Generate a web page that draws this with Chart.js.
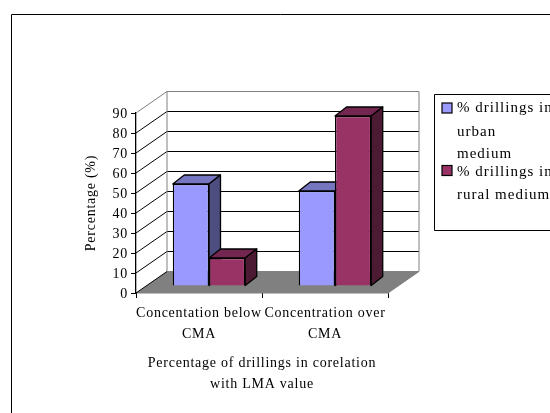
<!DOCTYPE html>
<html><head><meta charset="utf-8">
<style>html,body{margin:0;padding:0;background:#fff;overflow:hidden}canvas{display:block}</style>
<script src="https://cdn.jsdelivr.net/npm/chart.js@4"></script>
</head><body><canvas id="c" width="550" height="413"></canvas>
<script>
const categories = [["Concentation below","CMA"],["Concentration over","CMA"]];
const urbanValues = [51, 47.5];
const ruralValues = [14, 85];
const seriesNames = ["% drillings in urban medium","% drillings in rural medium"];
const legendLines = [["% drillings in","urban","medium"],["% drillings in","rural medium"]];
const yTitle = "Percentage (%)";
const xTitle = ["Percentage of drillings in corelation","with LMA value"];

const FONT = '"Liberation Serif", serif';
const wall = {dx:31, dy:-21.5};
const barShift = {dx:10, dy:-7};
const depth = {dx:11.5, dy:-9};
const faces = [{top:'#7575c0',side:'#4d4d80'},{top:'#732650',side:'#4d1a33'}];

function drawFaces(c,meta,f){
  meta.data.forEach(b=>{
    const p=b.getProps(['x','y','base','width'],true);
    const l=p.x-p.width/2, r=p.x+p.width/2, t=p.y, bt=p.base, dx=depth.dx, dy=depth.dy;
    c.strokeStyle='#000'; c.lineWidth=1.3; c.lineJoin='round';
    c.fillStyle=f.top;
    c.beginPath(); c.moveTo(l,t); c.lineTo(l+dx,t+dy); c.lineTo(r+dx,t+dy); c.lineTo(r,t); c.closePath(); c.fill(); c.stroke();
    c.fillStyle=f.side;
    c.beginPath(); c.moveTo(r,t); c.lineTo(r+dx,t+dy); c.lineTo(r+dx,bt+dy); c.lineTo(r,bt); c.closePath(); c.fill(); c.stroke();
  });
}

const scene = {
  id:'scene',
  beforeDraw(chart){
    const c = chart.ctx;
    c.letterSpacing = '0.75px';
    c.save();
    c.fillStyle='#fff'; c.fillRect(0,0,550,413);
    c.strokeStyle='#000'; c.lineWidth=1;
    c.beginPath(); c.moveTo(11.5,413); c.lineTo(11.5,14.5); c.lineTo(550,14.5); c.stroke();
    c.restore();
  },
  beforeDatasetsDraw(chart){
    const c = chart.ctx, y = chart.scales.y, a = chart.chartArea;
    const y0 = y.getPixelForValue(0), yMax = y.getPixelForValue(90);
    const L=a.left, R=a.right, dx=wall.dx, dy=wall.dy;
    c.save();
    c.fillStyle='#808080';
    c.beginPath(); c.moveTo(L,y0); c.lineTo(R,y0); c.lineTo(R+dx,y0+dy); c.lineTo(L+dx,y0+dy); c.closePath(); c.fill();
    c.lineWidth=1;
    y.ticks.forEach(t=>{
      if(t.value===0||t.value===90) return;
      const p=y.getPixelForValue(t.value);
      c.strokeStyle='#000';
      c.beginPath(); c.moveTo(L,p); c.lineTo(L+dx,p+dy); c.lineTo(R+dx,p+dy); c.stroke();
    });
    c.strokeStyle='#808080'; c.lineWidth=1;
    c.beginPath(); c.moveTo(L,yMax); c.lineTo(L+dx,yMax+dy); c.lineTo(R+dx,yMax+dy); c.lineTo(R+dx,y0+dy); c.lineTo(R,y0); c.stroke();
    c.beginPath(); c.moveTo(L+dx,yMax+dy); c.lineTo(L+dx,y0+dy); c.lineTo(R+dx,y0+dy); c.stroke();
    c.strokeStyle='#000';
    c.beginPath(); c.moveTo(L,y0); c.lineTo(L+dx,y0+dy); c.stroke();
    c.restore();
  },
  beforeDatasetDraw(chart,args){
    if(args.index===1) return false;
    chart.ctx.save();
    chart.ctx.translate(barShift.dx,barShift.dy);
  },
  afterDatasetDraw(chart,args){
    drawFaces(chart.ctx,args.meta,faces[0]);
    chart.ctx.restore();
  },
  afterDatasetsDraw(chart){
    const c=chart.ctx, meta=chart.getDatasetMeta(1);
    c.save();
    c.translate(barShift.dx,barShift.dy);
    meta.data.forEach(b=>b.draw(c));
    drawFaces(c,meta,faces[1]);
    c.restore();
  },
  afterDraw(chart){
    const c=chart.ctx;
    c.save();
    c.fillStyle='#fff'; c.strokeStyle='#000'; c.lineWidth=1;
    c.beginPath(); c.moveTo(550,94.5); c.lineTo(434.5,94.5); c.lineTo(434.5,230.5); c.lineTo(550,230.5); c.stroke();
    c.font='15px '+FONT; c.textBaseline='middle'; c.textAlign='left'; c.fillStyle='#000';
    c.letterSpacing='1px';
    const rows=[[108.5,132,154],[172,195]], sw=[103,165.5];
    legendLines.forEach((ls,i)=>{
      c.fillStyle=chart.data.datasets[i].backgroundColor;
      c.fillRect(442,sw[i],10,10);
      c.lineWidth=1.2; c.strokeRect(442,sw[i],10,10);
      c.fillStyle='#000';
      ls.forEach((s,j)=>c.fillText(s,457,rows[i][j]));
    });
    c.restore();
  }
};

new Chart(document.getElementById('c'),{
  type:'bar',
  data:{labels:categories,datasets:[
    {label:seriesNames[0],data:urbanValues,backgroundColor:'#9999ff',borderColor:'#000',borderWidth:1.3,clip:false,categoryPercentage:0.575,barPercentage:1},
    {label:seriesNames[1],data:ruralValues,backgroundColor:'#993366',borderColor:'#000',borderWidth:1.3,clip:false,categoryPercentage:0.575,barPercentage:1}
  ]},
  plugins:[scene],
  options:{
    responsive:false,animation:false,devicePixelRatio:1,
    layout:{padding:{left:83,right:162,top:113,bottom:18}},
    plugins:{legend:{display:false},tooltip:{enabled:false},title:{display:false}},
    scales:{
      x:{
        grid:{drawOnChartArea:false,drawTicks:true,tickLength:5,color:'#000',offset:true},
        border:{color:'#000',width:1.3},
        ticks:{color:'#000',font:{family:FONT,size:14,lineHeight:1.5},maxRotation:0,minRotation:0,autoSkip:false,padding:5},
        title:{display:true,text:xTitle,color:'#000',font:{family:FONT,size:14,lineHeight:1.5},padding:0},
        afterFit(s){s.height=102;}
      },
      y:{
        min:0,max:90,
        grid:{drawOnChartArea:false,drawTicks:true,tickLength:5,color:'#000'},
        border:{color:'#000',width:1.3},
        ticks:{stepSize:10,color:'#000',font:{family:FONT,size:14},padding:3},
        title:{display:true,text:yTitle,color:'#000',font:{family:FONT,size:14},padding:0},
        afterFit(s){s.width=53;},
        afterUpdate(s){
          if(s._shifted) return;
          s._shifted=true;
          const d=s.drawLabels;
          s.drawLabels=function(area){const c=this.ctx;c.save();c.translate(0,1.5);d.call(this,area);c.restore();};
        }
      }
    }
  }
});
</script></body></html>
